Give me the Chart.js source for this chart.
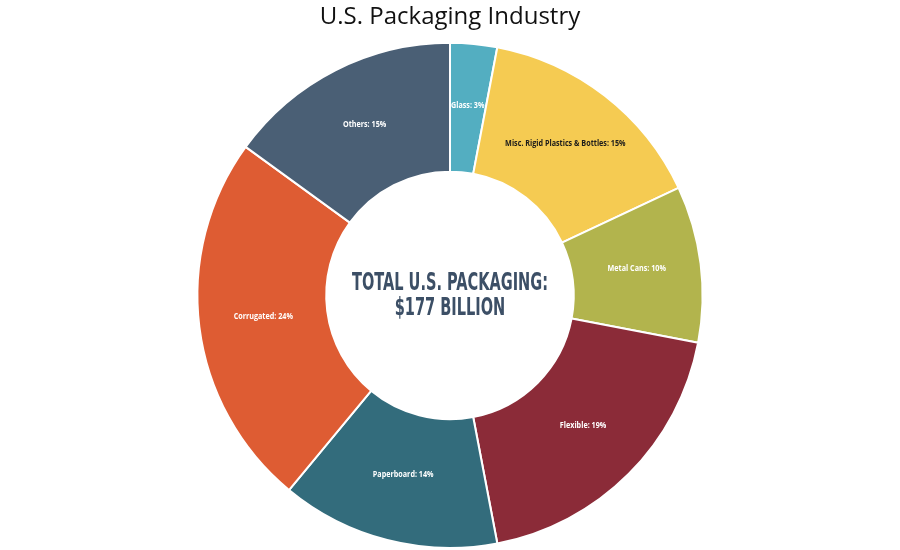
<!DOCTYPE html>
<html>
<head>
<meta charset="utf-8">
<script src="https://cdn.jsdelivr.net/npm/chart.js@4"></script>
<style>
  body { margin: 0; background: #fff; }
  #wrap { width: 900px; height: 550px; }
</style>
</head>
<body>
<div id="wrap"><canvas id="chart"></canvas></div>
<script>
const categories = ["Glass", "Misc. Rigid Plastics & Bottles", "Metal Cans", "Flexible", "Paperboard", "Corrugated", "Others"];
const shares = [3, 15, 10, 19, 14, 24, 15];
const colors = ["#53aec1", "#f5cb52", "#b2b44d", "#8b2b38", "#336c7c", "#de5c33", "#4a5f75"];
const labelColors = ["#fff", "#1a1a1a", "#fff", "#fff", "#fff", "#fff", "#fff"];
const centerLines = ["TOTAL U.S. PACKAGING:", "$177 BILLION"];

// draw text squeezed horizontally (condensed look)
function narrowText(ctx, text, x, y, squeeze) {
  ctx.save();
  ctx.translate(x, y);
  ctx.scale(squeeze, 1);
  ctx.fillText(text, 0, 0);
  ctx.restore();
}

const sliceLabels = {
  id: "sliceLabels",
  afterDatasetsDraw(chart) {
    const ctx = chart.ctx;
    const meta = chart.getDatasetMeta(0);
    ctx.save();
    ctx.font = "bold 9px 'Open Sans', sans-serif";
    ctx.textAlign = "center";
    ctx.textBaseline = "middle";
    meta.data.forEach((arc, i) => {
      const p = arc.getCenterPoint();
      ctx.fillStyle = labelColors[i];
      narrowText(ctx, categories[i] + ": " + shares[i] + "%", p.x, p.y - 3, 0.8);
    });
    ctx.restore();
  }
};

const centerText = {
  id: "centerText",
  afterDraw(chart) {
    const ctx = chart.ctx;
    const arc = chart.getDatasetMeta(0).data[0];
    ctx.save();
    ctx.font = "bold 25px 'DejaVu Sans Condensed', sans-serif";
    ctx.fillStyle = "#3c4f66";
    ctx.textAlign = "center";
    ctx.textBaseline = "middle";
    const w = ctx.measureText(centerLines[0]).width;
    const s = 196 / w;
    narrowText(ctx, centerLines[0], arc.x, arc.y - 12, s);
    narrowText(ctx, centerLines[1], arc.x, arc.y + 13, s);
    ctx.restore();
  }
};

new Chart(document.getElementById("chart"), {
  type: "doughnut",
  data: {
    labels: categories,
    datasets: [{
      data: shares,
      backgroundColor: colors,
      borderColor: "#fff",
      borderWidth: 2
    }]
  },
  options: {
    responsive: true,
    maintainAspectRatio: false,
    animation: false,
    cutout: "49%",
    layout: { padding: { top: 0, bottom: 1 } },
    plugins: {
      legend: { display: false },
      tooltip: { enabled: false },
      title: {
        display: true,
        text: "U.S. Packaging Industry",
        color: "#111",
        font: { family: "'Open Sans', sans-serif", size: 24, weight: "normal" },
        padding: { top: 3, bottom: 10 }
      }
    }
  },
  plugins: [sliceLabels, centerText]
});
</script>
</body>
</html>
